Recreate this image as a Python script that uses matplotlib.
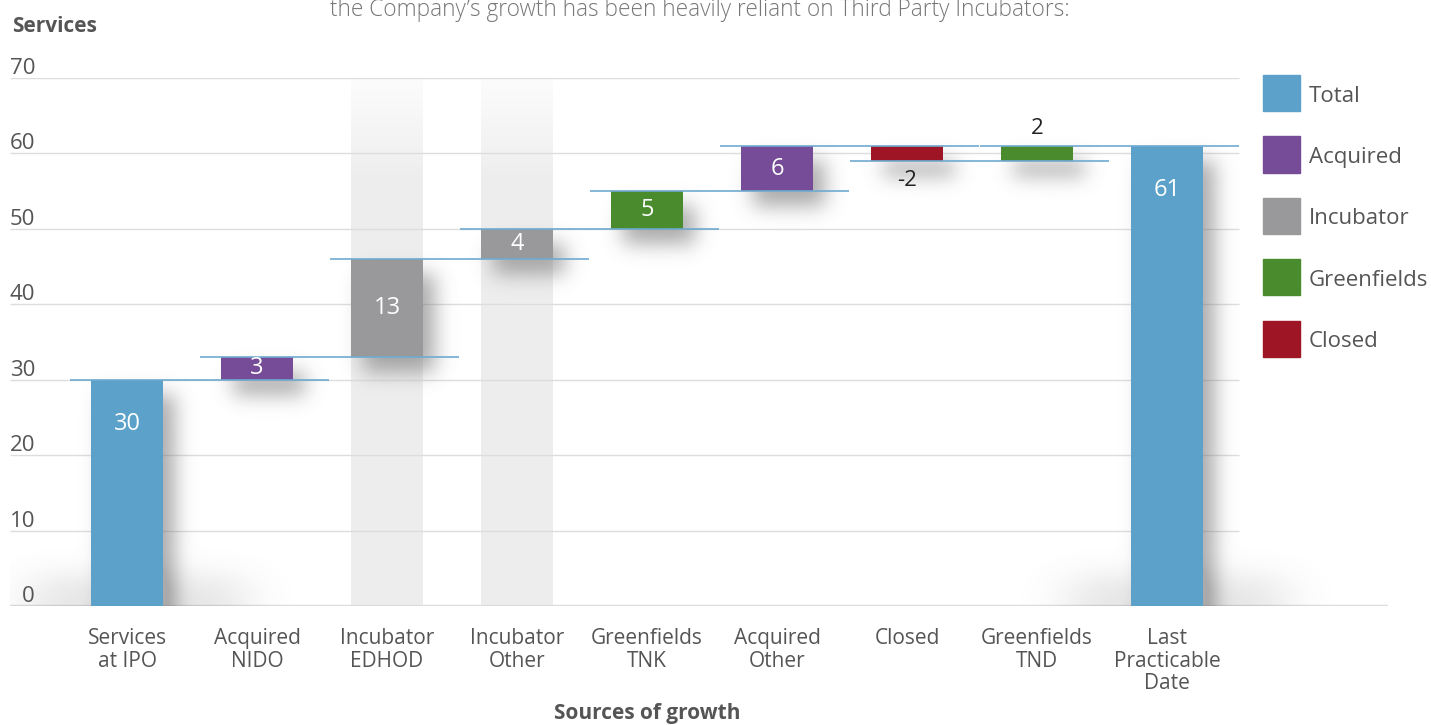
import math
import numpy as np
import matplotlib.pyplot as plt
from matplotlib.patches import Rectangle

categories = ["Services\nat IPO", "Acquired\nNIDO", "Incubator\nEDHOD", "Incubator\nOther",
              "Greenfields\nTNK", "Acquired\nOther", "Closed", "Greenfields\nTND",
              "Last\nPracticable\nDate"]
changes = [30, 3, 13, 4, 5, 6, -2, 2, 61]
kinds = ["Total", "Acquired", "Incubator", "Incubator", "Greenfields",
         "Acquired", "Closed", "Greenfields", "Total"]
highlighted = ["Incubator\nEDHOD", "Incubator\nOther"]
legend_names = ["Total", "Acquired", "Incubator", "Greenfields", "Closed"]
y_ticks = [0, 10, 20, 30, 40, 50, 60, 70]

colors = {"Total": "#5BA1C9", "Acquired": "#764B98", "Incubator": "#99999B",
          "Greenfields": "#4A8B2E", "Closed": "#9E1626"}

plt.rcParams['font.family'] = ['Open Sans', 'DejaVu Sans']

FW, FH = 1431, 725
AX_L, AX_R, AX_T, AX_B = 10, 1388, 78, 606
XMIN, XMAX = -0.9, 9.7
YMIN, YMAX = 0, 70
BAR_W = 0.55

fig = plt.figure(figsize=(FW / 100, FH / 100), dpi=100)
ax = fig.add_axes([AX_L / FW, 1 - AX_B / FH, (AX_R - AX_L) / FW, (AX_B - AX_T) / FH])
ax.set_xlim(XMIN, XMAX)
ax.set_ylim(YMIN, YMAX)
for s in ax.spines.values():
    s.set_visible(False)

px_x = (AX_R - AX_L) / (XMAX - XMIN)
px_y = (AX_B - AX_T) / (YMAX - YMIN)

# bar geometry
bottoms, tops, ends = [], [], []
running = 0
for c, k in zip(changes, kinds):
    if k == "Total":
        b, t = 0, c
        running = c
    else:
        b, t = min(running, running + c), max(running, running + c)
        running += c
    bottoms.append(b)
    tops.append(t)
    ends.append(running)
xpos = np.arange(len(categories))

# highlight bands, fading out towards the top
W = AX_R - AX_L
H = AX_B - AX_T
ys_data = YMAX - (np.arange(H) + 0.5) / px_y
band_alpha = np.clip(0.15 + (YMAX - ys_data) / 14 * 0.85, 0.15, 1.0)
for i, cat in enumerate(categories):
    if cat in highlighted:
        img = np.zeros((H, 2, 4))
        img[..., :3] = 0.93
        img[..., 3] = band_alpha[:, None]
        ax.imshow(img, extent=(i - BAR_W / 2, i + BAR_W / 2, YMIN, YMAX), aspect='auto',
                  zorder=0.5, interpolation='bilinear')

# gridlines
ax.hlines(y_ticks[1:], XMIN, 8.55, color="#DDDDDD", lw=1, zorder=1)
ax.axhline(0, color="#DDDDDD", lw=2.5, zorder=1)

# soft shadows
erf = np.vectorize(math.erf)
xs = np.arange(W) + 0.5
ys = np.arange(H) + 0.5


def soft(coords, a, b, s):
    return 0.5 * (erf((coords - a) / (s * 1.414)) - erf((coords - b) / (s * 1.414)))


shadow = np.zeros((H, W))
for i in range(len(categories)):
    x0 = (i - BAR_W / 2 - XMIN) * px_x
    x1 = (i + BAR_W / 2 - XMIN) * px_x
    y0 = (YMAX - tops[i]) * px_y
    y1 = (YMAX - bottoms[i]) * px_y
    shadow += 0.6 * np.outer(soft(ys, y0 + 15, y1 + 15, 10), soft(xs, x0 + 12, x1 + 12, 10))
    if bottoms[i] == 0:
        shadow += 0.18 * np.outer(soft(ys, H - 30, H + 30, 14), soft(xs, x0 - 60, x1 + 80, 25))
shadow = np.clip(shadow, 0, 0.6)
simg = np.zeros((H, W, 4))
simg[..., :3] = 0.45
simg[..., 3] = shadow
ax.imshow(simg, extent=(XMIN, XMAX, YMIN, YMAX), aspect='auto', zorder=2)

# bars
for i in range(len(categories)):
    ax.bar(i, tops[i] - bottoms[i], bottom=bottoms[i], width=BAR_W,
           color=colors[kinds[i]], zorder=3)

# connectors
for i in range(len(categories) - 1):
    ax.hlines(ends[i], i - 0.44, i + 1.55, color="#6FAAD0", lw=1.2, zorder=4)

# value labels
for i, c in enumerate(changes):
    if kinds[i] == "Total":
        ax.annotate(str(c), (i, tops[i]), xytext=(0, -44), textcoords='offset pixels',
                    ha='center', va='center', color='white', fontsize=17, zorder=5)
    elif abs(c) >= 3:
        ax.text(i, (tops[i] + bottoms[i]) / 2, str(c), ha='center', va='center',
                color='white', fontsize=17, zorder=5)
    elif c < 0:
        ax.annotate(str(c), (i, bottoms[i]), xytext=(0, -20), textcoords='offset pixels',
                    ha='center', va='center', color='#222222', fontsize=16, zorder=5)
    else:
        ax.annotate(str(c), (i, tops[i]), xytext=(0, 17), textcoords='offset pixels',
                    ha='center', va='center', color='#222222', fontsize=16, zorder=5)

# y tick labels above the gridlines
ax.set_yticks([])
for v in y_ticks:
    ax.annotate(str(v), (XMIN + 25 / px_x, v), xytext=(0, 4), textcoords='offset pixels',
                ha='right', va='baseline', color='#555555', fontsize=16)

ax.set_xticks(xpos)
ax.set_xticklabels(categories, fontsize=15, color='#555555', linespacing=1.1)
ax.tick_params(axis='x', length=0, pad=16)

t = ax.text(4, -(714 - AX_B) / px_y, "Sources of growth", ha='center', va='center',
            fontsize=15, fontweight='bold', color='#555555')
t.set_clip_on(False)

fig.text(12 / FW, 1 - 27 / FH, "Services", ha='left', va='center', fontsize=15,
         fontweight='bold', color='#555555')
fig.text(700 / FW, 1 - 10 / FH,
         "the Company\u2019s growth has been heavily reliant on Third Party Incubators:",
         ha='center', va='center', fontsize=16.3, fontweight='light', color='#777777')

# legend
for j, name in enumerate(legend_names):
    cy = 93 + j * 61.5
    fig.patches.append(Rectangle((1263 / FW, 1 - (cy + 18) / FH), 37 / FW, 36 / FH,
                                 transform=fig.transFigure, color=colors[name]))
    fig.text(1309 / FW, 1 - (cy + 3) / FH, name, ha='left', va='center', fontsize=16,
             color='#555555')

fig.savefig("out.png", dpi=100)
